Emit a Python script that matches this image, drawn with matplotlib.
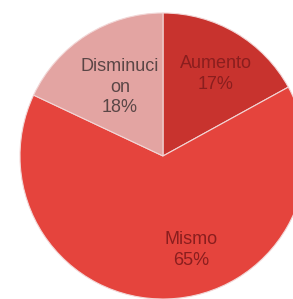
import matplotlib
matplotlib.use("Agg")
import matplotlib.pyplot as plt

# data
categories = ["Aumento", "Mismo", "Disminuci\non"]
values = [17, 65, 18]
slice_colors = ["#c8332e", "#e5443d", "#e3a4a2"]
text_colors = ["#8a1e1e", "#8a1e1e", "#5a4646"]

# label centres in pixel coords (x, y from top)
label_pos = [(216, 74), (191, 250), (120, 87)]

W, H = 293, 299
fig = plt.figure(figsize=(W / 100, H / 100), dpi=100)
ax = fig.add_axes([0, 0, 1, 1])

cx, cy, r = 163, 156, 143
ax.pie(values, colors=slice_colors, startangle=90, counterclock=False,
       center=(cx, H - cy), radius=r,
       wedgeprops=dict(edgecolor="#f2d6d6", linewidth=0.8))

for name, v, pos, c in zip(categories, values, label_pos, text_colors):
    ax.text(pos[0], H - pos[1], f"{name}\n{v}%", ha="center", va="center",
            fontsize=13, color=c, family="Liberation Sans", linespacing=1.3)

ax.set_xlim(0, W)
ax.set_ylim(0, H)
ax.set_aspect("auto")
ax.axis("off")

fig.savefig("out.png", dpi=100)
